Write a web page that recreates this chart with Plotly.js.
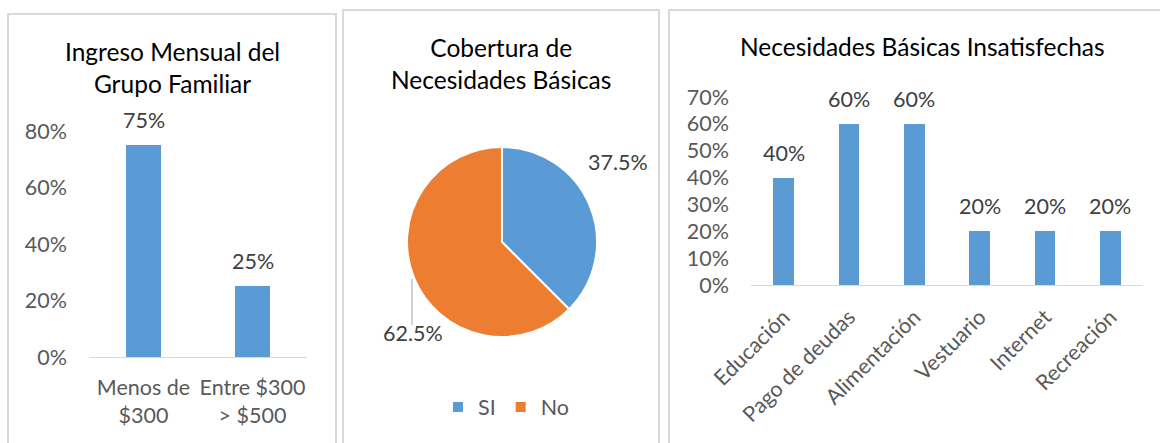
<!DOCTYPE html>
<html>
<head>
<meta charset="utf-8">
<script src="https://cdn.plot.ly/plotly-3.0.1.min.js"></script>
<style>html,body{margin:0;padding:0;background:#fff;}#chart{width:1160px;height:443px;}</style>
</head>
<body>
<div id="chart"></div>
<script>
// ---- Data ----
const incomeCategories = ['Menos de $300', 'Entre $300 > $500'];
const incomeTickText = ['Menos de<br>$300', 'Entre $300<br>> $500'];
const incomeValues = [0.75, 0.25];

const coverageLabels = ['SI', 'No'];
const coverageValues = [0.375, 0.625];

const needsCategories = ['Educación', 'Pago de deudas', 'Alimentación', 'Vestuario', 'Internet', 'Recreación'];
const needsValues = [0.40, 0.60, 0.60, 0.20, 0.20, 0.20];

const title1 = 'Ingreso Mensual del<br>Grupo Familiar';
const title2 = 'Cobertura de<br>Necesidades Básicas';
const title3 = 'Necesidades Básicas Insatisfechas';

// ---- Styling ----
const W = 1160, H = 443;
const FONT = 'Lato, "Open Sans", sans-serif';
const BLUE = '#5B9BD5', ORANGE = '#ED7D31';
const px = v => v / W;
const py = v => 1 - v / H;

const pct0 = v => Math.round(v * 100) + '%';
const pct1 = v => (v * 100).toFixed(1) + '%';

const traces = [
  {
    type: 'bar', x: incomeCategories, y: incomeValues, xaxis: 'x', yaxis: 'y',
    marker: {color: BLUE}, width: 0.32, hoverinfo: 'none', showlegend: false
  },
  {
    type: 'pie', labels: coverageLabels, values: coverageValues, sort: false,
    direction: 'clockwise', rotation: 0, textinfo: 'none',
    marker: {colors: [BLUE, ORANGE], line: {color: '#fff', width: 2}},
    domain: {x: [px(407), px(597)], y: [py(337), py(147)]},
    hoverinfo: 'none', showlegend: true
  },
  {
    type: 'bar', x: needsCategories, y: needsValues, xaxis: 'x2', yaxis: 'y2',
    marker: {color: BLUE}, width: 0.32, hoverinfo: 'none', showlegend: false
  }
];

const tickFont = {family: FONT, size: 21.5, color: '#595959'};
const labelFont = {family: FONT, size: 21.5, color: '#404040'};
const titleFont = {family: FONT, size: 24.5, color: '#000'};

const annotations = [];
incomeCategories.forEach((c, i) => annotations.push({
  xref: 'x', yref: 'y', x: c, y: incomeValues[i], text: pct0(incomeValues[i]),
  showarrow: false, yanchor: 'middle', yshift: 25, font: labelFont
}));
needsCategories.forEach((c, i) => annotations.push({
  xref: 'x2', yref: 'y2', x: c, y: needsValues[i], text: pct0(needsValues[i]),
  showarrow: false, yanchor: 'middle', yshift: 25, font: labelFont
}));
// pie labels
annotations.push({xref: 'paper', yref: 'paper', x: px(618), y: py(162), text: pct1(coverageValues[0]),
  showarrow: false, font: labelFont, xanchor: 'center', yanchor: 'middle'});
annotations.push({xref: 'paper', yref: 'paper', x: px(413), y: py(333), text: pct1(coverageValues[1]),
  showarrow: false, font: labelFont, xanchor: 'center', yanchor: 'middle'});
// titles
annotations.push({xref: 'paper', yref: 'paper', x: px(172), y: py(68), text: title1, showarrow: false,
  font: titleFont, xanchor: 'center', yanchor: 'middle'});
annotations.push({xref: 'paper', yref: 'paper', x: px(501), y: py(64), text: title2, showarrow: false,
  font: titleFont, xanchor: 'center', yanchor: 'middle'});
annotations.push({xref: 'paper', yref: 'paper', x: px(922), y: py(47), text: title3, showarrow: false,
  font: titleFont, xanchor: 'center', yanchor: 'middle'});

const border = {color: '#D9D9D9', width: 2};
const shapes = [
  {type: 'rect', xref: 'paper', yref: 'paper', x0: px(8), x1: px(336), y0: py(14), y1: py(470), line: border},
  {type: 'rect', xref: 'paper', yref: 'paper', x0: px(343), x1: px(659), y0: py(10), y1: py(470), line: border},
  {type: 'rect', xref: 'paper', yref: 'paper', x0: px(669), x1: px(1190), y0: py(10), y1: py(470), line: border},
  {type: 'line', xref: 'paper', yref: 'paper', x0: px(412), x1: px(412), y0: py(279), y1: py(325),
   line: {color: '#A6A6A6', width: 1}}
];

const layout = {
  width: W, height: H,
  margin: {l: 0, r: 0, t: 0, b: 0},
  paper_bgcolor: '#fff', plot_bgcolor: 'rgba(0,0,0,0)',
  font: {family: FONT},
  bargap: 0,
  xaxis: {
    domain: [px(89), px(307)], anchor: 'y', type: 'category',
    tickvals: incomeCategories, ticktext: incomeTickText,
    tickfont: tickFont, showgrid: false, zeroline: false,
    showline: true, linecolor: '#D9D9D9', linewidth: 1, ticks: '', ticklabelstandoff: 11,
    fixedrange: true
  },
  yaxis: {
    domain: [py(357), py(131)], anchor: 'x', range: [0, 0.8], tickvals: [0, 0.2, 0.4, 0.6, 0.8],
    tickformat: '.0%', tickfont: tickFont, showgrid: false, zeroline: false, showline: false,
    ticks: '', ticklabelstandoff: 21, fixedrange: true
  },
  xaxis2: {
    domain: [px(751), px(1143)], anchor: 'y2', type: 'category',
    tickfont: tickFont, tickangle: -45, showgrid: false, zeroline: false,
    showline: true, linecolor: '#D9D9D9', linewidth: 1, ticks: '', ticklabelstandoff: 10,
    fixedrange: true
  },
  yaxis2: {
    domain: [py(285), py(97)], anchor: 'x2', range: [0, 0.7], dtick: 0.1,
    tickformat: '.0%', tickfont: tickFont, showgrid: false, zeroline: false, showline: false,
    ticks: '', ticklabelstandoff: 21, fixedrange: true
  },
  legend: {
    orientation: 'h', x: px(506), xanchor: 'center', y: py(407), yanchor: 'middle',
    itemwidth: 30,
    font: {family: FONT, size: 21.5, color: '#595959'}, bgcolor: 'rgba(0,0,0,0)'
  },
  showlegend: true,
  annotations: annotations,
  shapes: shapes
};

Plotly.newPlot('chart', traces, layout, {displayModeBar: false, staticPlot: true});
</script>
</body>
</html>
